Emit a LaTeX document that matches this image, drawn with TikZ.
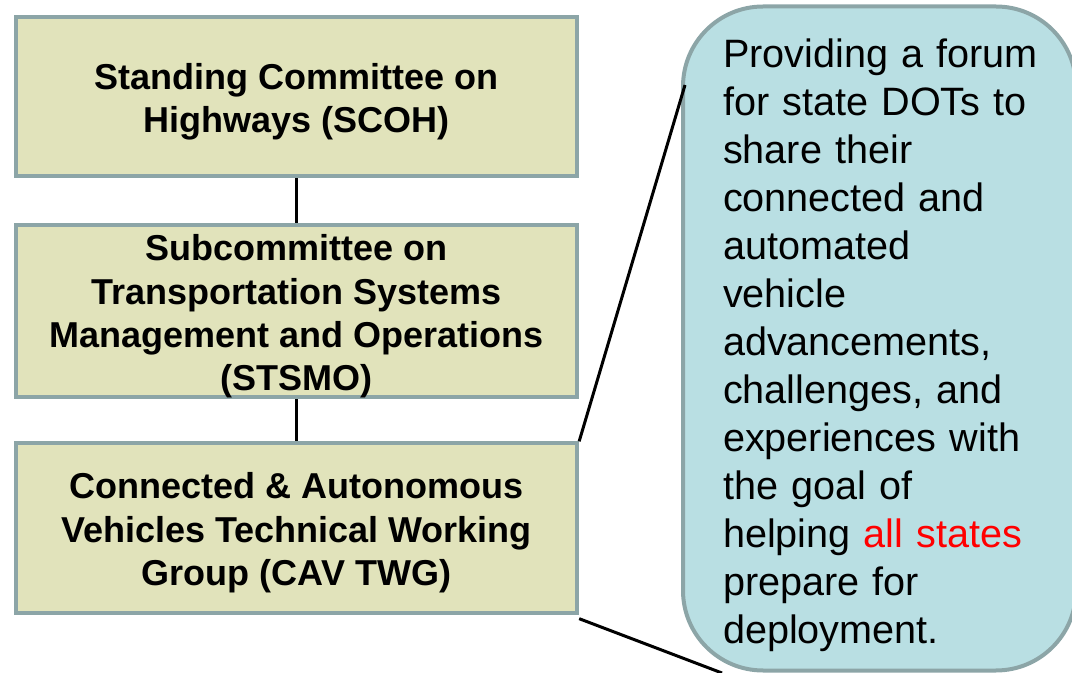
\documentclass[tikz,border=0pt]{standalone}
\usepackage{fontspec}
\setmainfont{Liberation Sans}
\usetikzlibrary{calc,positioning}
\definecolor{boxfill}{RGB}{225,227,187}
\definecolor{boxline}{RGB}{140,165,167}
\definecolor{notefill}{RGB}{185,223,227}

\begin{document}
\begin{tikzpicture}[x=0.75pt,y=-0.75pt,
    orgbox/.style={draw=boxline,fill=boxfill,line width=3pt,minimum width=421pt,inner sep=0pt},
    orgtext/.style={align=center,inner sep=0pt,yshift=-3.75pt,
      font=\fontsize{27}{32.5}\selectfont\bfseries},
    note/.style={draw=boxline,fill=notefill,line width=3pt,rounded corners=60pt,
      minimum width=294.75pt,minimum height=498pt,inner sep=0pt},
    notetext/.style={text width=250pt,align=left,inner sep=0pt,xshift=7.65pt,yshift=-5pt,
      font=\fontsize{29.7}{36}\selectfont},
    link/.style={line width=2.25pt}]
    \useasboundingbox (0,0) rectangle (1072,673);

    \node[orgbox,minimum height=119pt,
      label={[orgtext]center:{Standing Committee on\\Highways (SCOH)}}] (scoh) at (296.5,96.5) {};
    \node[orgbox,minimum height=129pt,
      label={[orgtext]center:{Subcommittee on\\Transportation Systems\\Management and Operations\\(STSMO)}}] (stsmo) at (296.5,311.5) {};
    \node[orgbox,minimum height=127pt,
      label={[orgtext]center:{Connected \& Autonomous\\Vehicles Technical Working\\Group (CAV TWG)}}] (cav) at (296.5,528) {};

    \draw[link] (scoh) -- (stsmo);
    \draw[link] (stsmo) -- (cav);

    % callout runs off the right and bottom edges
    \begin{scope}
      \clip (0,0) rectangle (1072,673);
      \node[note,
        label={[notetext]center:{Providing a forum\\for state DOTs to\\share their\\connected and\\automated\\vehicle\\advancements,\\challenges, and\\experiences with\\the goal of\\helping \textcolor{red}{all states}\\prepare for\\deployment.}}] (forum) at (879.5,338.5) {};
      \coordinate (forumtop) at (685,85);
      \coordinate (forumbot) at (722,673);
      \draw[link] (cav.north east) -- (forumtop);
      \draw[link] ($(cav.south east)+(0,4)$) -- (forumbot);
    \end{scope}
\end{tikzpicture}
\end{document}
